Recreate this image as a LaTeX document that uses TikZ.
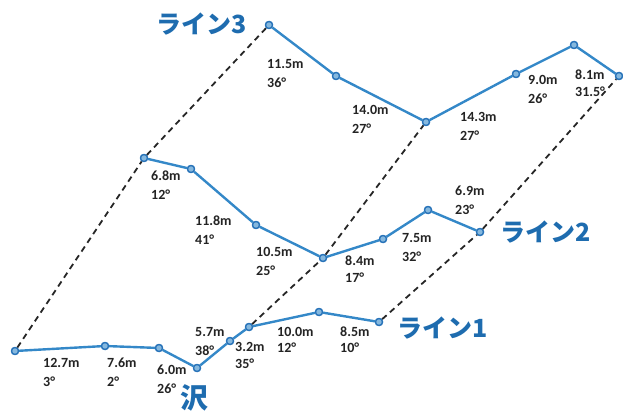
\documentclass[tikz,border=0pt]{standalone}
\usepackage{fontspec}
\setmainfont{Carlito}
\newfontfamily\cjk{Noto Sans CJK JP}
\definecolor{lineblue}{RGB}{52,136,200}
\definecolor{dotblue}{RGB}{40,115,185}
\definecolor{txtblue}{RGB}{30,108,175}
\definecolor{lbl}{RGB}{35,35,35}
\tikzset{
  dot/.style={circle, inner sep=0pt, minimum size=7pt, draw=dotblue, line width=1.3pt, fill=lineblue!60!white},
  surv/.style={draw=lineblue, line width=2.4pt, line join=round},
  dsh/.style={draw=black!85, line width=1.8pt, dash pattern=on 6pt off 4.5pt},
  lab/.style={anchor=base west, inner sep=0pt, font=\fontsize{14}{16}\selectfont\bfseries, text=lbl},
  ttl/.style={inner sep=0pt, font=\cjk\fontsize{25}{28}\selectfont\bfseries, text=txtblue}
}
\newcommand{\mylab}[5]{%
  \node[lab] (#1a) at (#2,#3+4.5) {#4};
  \node[lab] (#1b) at (#2,#3+23.5) {#5};}
\begin{document}
\begin{tikzpicture}[x=1pt,y=-1pt]
\useasboundingbox (0,0) rectangle (623,414);
% points line 1
\node[dot] (p1) at (15,351) {};
\node[dot] (p2) at (105,346) {};
\node[dot] (p3) at (159,348) {};
\node[dot] (p4) at (197,368) {};
\node[dot] (p5) at (230,341) {};
\node[dot] (p6) at (249,327) {};
\node[dot] (p7) at (319,312) {};
\node[dot] (p8) at (379,322) {};
% line 2
\node[dot] (q1) at (144,158) {};
\node[dot] (q2) at (191,169) {};
\node[dot] (q3) at (256,225) {};
\node[dot] (q4) at (323,258) {};
\node[dot] (q5) at (383,239) {};
\node[dot] (q6) at (428,210) {};
\node[dot] (q7) at (480,232) {};
% line 3
\node[dot] (r1) at (269,25) {};
\node[dot] (r2) at (336,76) {};
\node[dot] (r3) at (426,122) {};
\node[dot] (r4) at (516,74) {};
\node[dot] (r5) at (574,45) {};
\node[dot] (r6) at (619,76) {};
% dashed connectors
\draw[dsh] (p1) -- (q1) -- (r1);
\draw[dsh] (p6) -- (q4) -- (r3);
\draw[dsh] (p8) -- (q7) -- (r6);
% survey lines
\draw[surv] (p1) -- (p2) -- (p3) -- (p4) -- (p5) -- (p6) -- (p7) -- (p8);
\draw[surv] (q1) -- (q2) -- (q3) -- (q4) -- (q5) -- (q6) -- (q7);
\draw[surv] (r1) -- (r2) -- (r3) -- (r4) -- (r5) -- (r6);
% redraw dots on top
\foreach \n in {p1,p2,p3,p4,p5,p6,p7,p8,q1,q2,q3,q4,q5,q6,q7,r1,r2,r3,r4,r5,r6}
  \node[dot] at (\n) {};
% labels line 1
\mylab{l1}{43}{363}{12.7m}{3°}
\mylab{l2}{107}{363}{7.6m}{2°}
\mylab{l3}{157}{370}{6.0m}{26°}
\mylab{l4}{195}{332}{5.7m}{38°}
\node[lab] (l5a) at (235,351.5) {3.2m};
\node[lab] (l5b) at (235,368.5) {35°};
\node[lab] (l6a) at (277,336.5) {10.0m};
\node[lab] (l6b) at (277,352.5) {12°};
\node[lab] (l7a) at (340,336.5) {8.5m};
\node[lab] (l7b) at (340,352.5) {10°};
% labels line 2
\mylab{m1}{151}{176}{6.8m}{12°}
\mylab{m2}{195}{221}{11.8m}{41°}
\mylab{m3}{256}{252}{10.5m}{25°}
\node[lab] (m4a) at (345,265.5) {8.4m};
\node[lab] (m4b) at (345,282.5) {17°};
\mylab{m5}{402}{238}{7.5m}{32°}
\mylab{m6}{455}{191}{6.9m}{23°}
% labels line 3
\mylab{n1}{267}{64}{11.5m}{36°}
\mylab{n2}{352}{110}{14.0m}{27°}
\mylab{n3}{460}{117}{14.3m}{27°}
\mylab{n4}{528}{80}{9.0m}{26°}
\node[lab] (n5a) at (575,79.5) {8.1m};
\node[lab] (n5b) at (575,96.5) {31.5°};
% titles
\node[ttl] (t1) at (443,328) {ライン1};
\node[ttl] (t2) at (546,232) {ライン2};
\node[ttl] (t3) at (202,24) {ライン3};
\node[ttl, font=\cjk\fontsize{28}{30}\selectfont\bfseries] (sawa) at (194,398) {沢};
\end{tikzpicture}
\end{document}
